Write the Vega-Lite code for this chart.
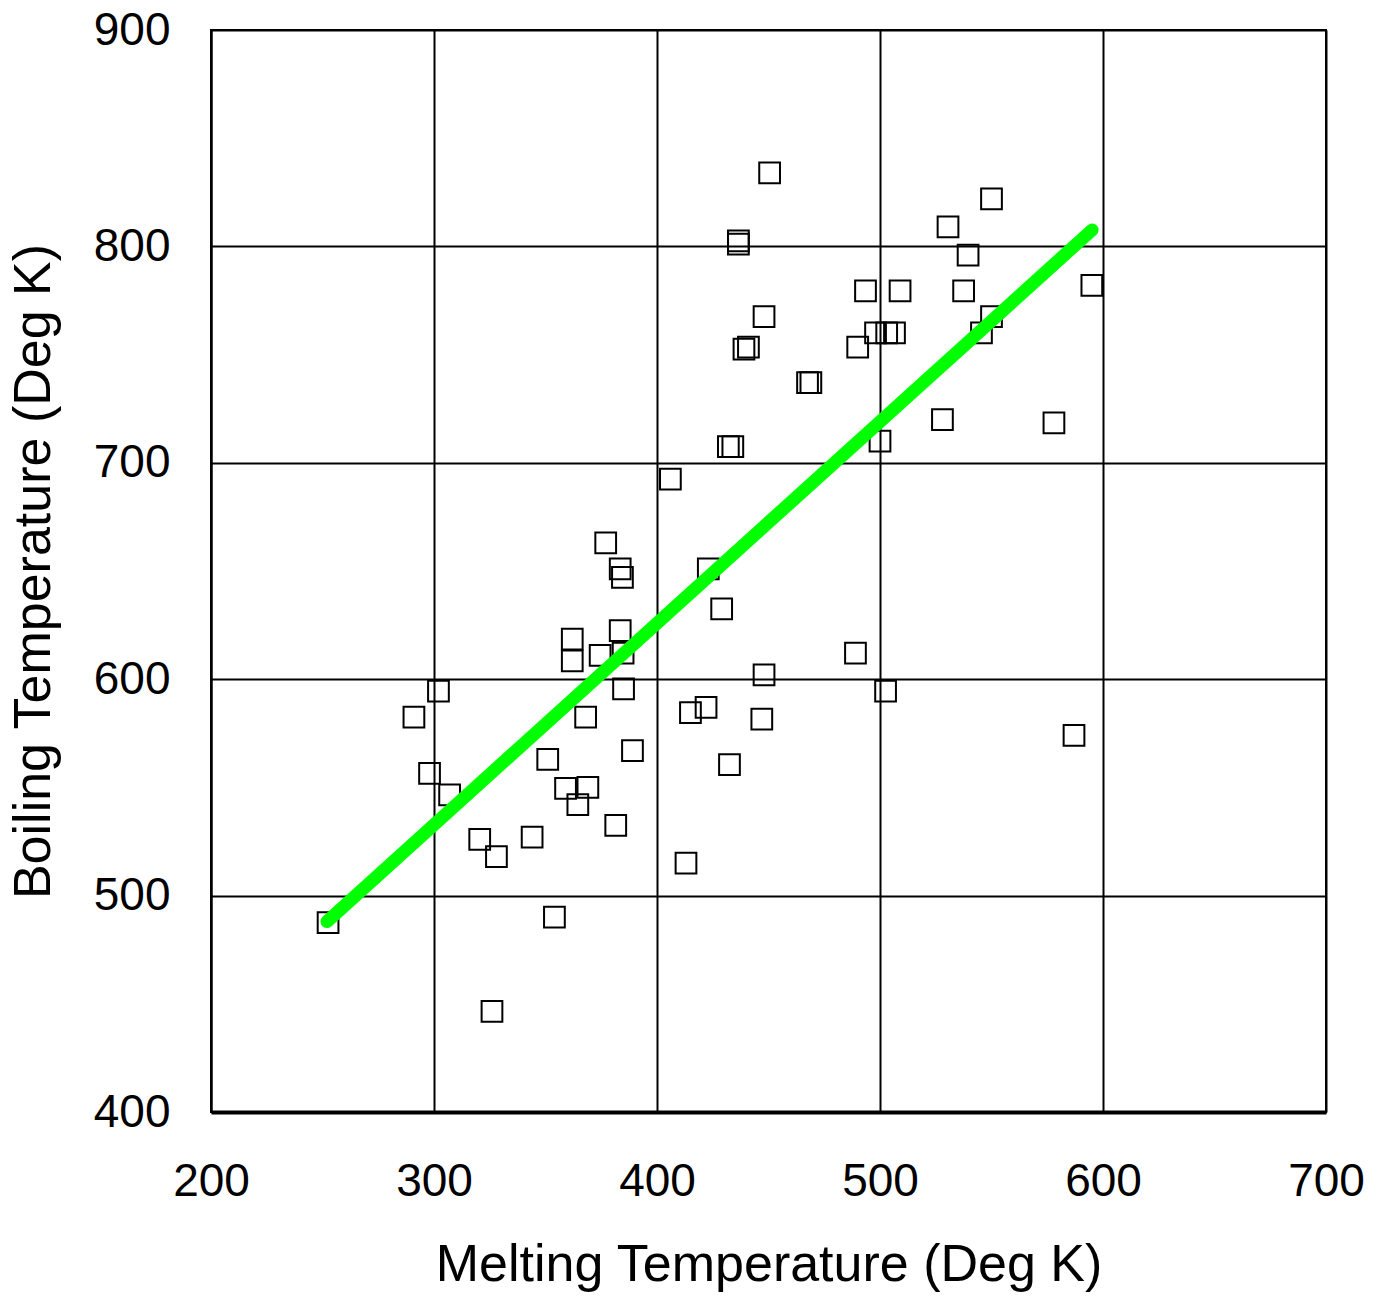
{
  "$schema": "https://vega.github.io/schema/vega-lite/v6.json",
  "width": 1115,
  "height": 1082,
  "autosize": {"type": "none"},
  "padding": {"left": 211, "top": 30, "right": 47, "bottom": 184},
  "background": "white",
  "config": {
    "font": "Liberation Sans",
    "view": {"stroke": "black", "strokeWidth": 2},
    "axis": {
      "grid": true,
      "gridColor": "black",
      "gridWidth": 2,
      "gridOpacity": 1,
      "ticks": false,
      "labelFont": "Liberation Sans",
      "labelFontSize": 46,
      "labelColor": "black",
      "titleFont": "Liberation Sans",
      "titleFontSize": 52,
      "titleFontWeight": "normal",
      "titleColor": "black",
      "domainColor": "black"
    }
  },
  "datasets": {
    "pts": [
      {"m": 377, "b": 663}, {"m": 383.5, "b": 651}, {"m": 384.5, "b": 647}, {"m": 383.5, "b": 622.5},
      {"m": 362, "b": 618.5}, {"m": 362, "b": 608.5}, {"m": 374.5, "b": 611}, {"m": 384.8, "b": 612},
      {"m": 302, "b": 594.5}, {"m": 291, "b": 582.5}, {"m": 385, "b": 595.5}, {"m": 368, "b": 582.5},
      {"m": 389, "b": 567}, {"m": 351, "b": 563}, {"m": 298, "b": 556.5}, {"m": 307, "b": 546.5},
      {"m": 359, "b": 549.5}, {"m": 369, "b": 550}, {"m": 364.5, "b": 542}, {"m": 381.5, "b": 532.5},
      {"m": 320.5, "b": 526}, {"m": 328, "b": 518}, {"m": 344, "b": 527}, {"m": 252.5, "b": 487.5},
      {"m": 354, "b": 490}, {"m": 413, "b": 515}, {"m": 415, "b": 584.5}, {"m": 326, "b": 446.5},
      {"m": 423, "b": 651}, {"m": 429, "b": 632.5}, {"m": 489, "b": 612}, {"m": 448, "b": 602},
      {"m": 502.5, "b": 594.5}, {"m": 422, "b": 587}, {"m": 447, "b": 581.5}, {"m": 432.5, "b": 560.5},
      {"m": 587, "b": 574}, {"m": 450.5, "b": 834}, {"m": 436.5, "b": 802.5}, {"m": 436.5, "b": 801},
      {"m": 448, "b": 767.5}, {"m": 439, "b": 752.5}, {"m": 441, "b": 753.5}, {"m": 467.5, "b": 737},
      {"m": 469, "b": 737}, {"m": 432, "b": 707.5}, {"m": 434, "b": 707.5}, {"m": 406, "b": 692.5},
      {"m": 550, "b": 822}, {"m": 530.5, "b": 809}, {"m": 539.5, "b": 796}, {"m": 493.5, "b": 779.5},
      {"m": 509, "b": 779.5}, {"m": 537.5, "b": 779.5}, {"m": 595, "b": 782}, {"m": 550, "b": 767.5},
      {"m": 545.5, "b": 760}, {"m": 498, "b": 760}, {"m": 503, "b": 760}, {"m": 506.5, "b": 760},
      {"m": 490, "b": 753.5}, {"m": 500, "b": 710}, {"m": 528, "b": 720}, {"m": 578, "b": 718.5}
    ],
    "fit": [
      {"m": 252, "b": 488},
      {"m": 595.1, "b": 807.6}
    ]
  },
  "layer": [
    {
      "data": {"name": "pts"},
      "mark": {"type": "point", "shape": "square", "filled": false, "stroke": "black", "strokeWidth": 2, "size": 430, "opacity": 1},
      "encoding": {
        "x": {
          "field": "m", "type": "quantitative",
          "scale": {"domain": [200, 700], "nice": false, "zero": false},
          "axis": {"title": "Melting Temperature (Deg K)", "values": [200, 300, 400, 500, 600, 700], "labelPadding": 47, "titlePadding": 35, "domainWidth": 4, "labelFlush": false}
        },
        "y": {
          "field": "b", "type": "quantitative",
          "scale": {"domain": [400, 900], "nice": false, "zero": false},
          "axis": {"title": "Boiling Temperature (Deg K)", "values": [400, 500, 600, 700, 800, 900], "labelPadding": 41, "titlePadding": 33, "domainWidth": 2, "labelFlush": false}
        }
      }
    },
    {
      "data": {"name": "fit"},
      "mark": {"type": "line", "color": "#00FF00", "strokeWidth": 13, "strokeCap": "round"},
      "encoding": {
        "x": {"field": "m", "type": "quantitative"},
        "y": {"field": "b", "type": "quantitative"}
      }
    },
    {
      "mark": {"type": "rule", "color": "black", "strokeWidth": 3.5},
      "encoding": {"x": {"datum": 700}}
    }
  ]
}
